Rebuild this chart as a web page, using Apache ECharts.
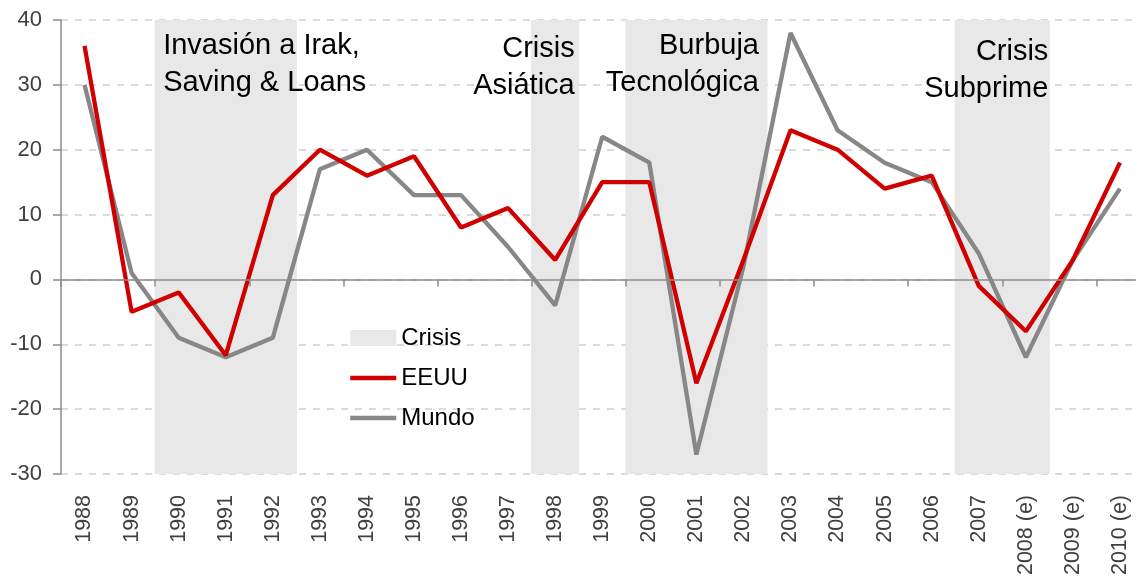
<!DOCTYPE html>
<html>
<head>
<meta charset="utf-8">
<script src="https://cdn.jsdelivr.net/npm/echarts@6/dist/echarts.min.js"></script>
<style>
  html, body { margin: 0; padding: 0; background: #fff; }
  #chart { width: 1136px; height: 584px; }
</style>
</head>
<body>
<div id="chart"></div>
<script>
// chart data
var years = ['1988', '1989', '1990', '1991', '1992', '1993', '1994', '1995', '1996', '1997',
             '1998', '1999', '2000', '2001', '2002', '2003', '2004', '2005', '2006', '2007',
             '2008 (e)', '2009 (e)', '2010 (e)'];
var eeuu  = [36, -5, -2, -11.7, 13, 20, 16, 19, 8, 11, 3, 15, 15, -16, 3, 23, 20, 14, 16, -1, -8, 3, 18];
var mundo = [30, 1, -9, -12, -9, 17, 20, 13, 13, 5, -4, 22, 18, -27, 2, 38, 23, 18, 15, 4, -12, 3, 14];
var crisisYears = ['1990', '1991', '1992', '1998', '2000', '2001', '2002', '2007', '2008 (e)'];
var yTicks = { min: -30, max: 40, interval: 10 };

// annotations over the crisis bands: text, band edge year, side, alignment
var notes = [
  { text: 'Invasión a Irak,\nSaving & Loans', year: '1990', side: 'left', align: 'left', dx: 8, top: 27 },
  { text: 'Crisis\nAsiática', year: '1998', side: 'right', align: 'right', dx: -4, top: 30 },
  { text: 'Burbuja\nTecnológica', year: '2002', side: 'right', align: 'right', dx: -8, top: 27 },
  { text: 'Crisis\nSubprime', year: '2008 (e)', side: 'right', align: 'right', dx: -1, top: 33 }
];

var FONT = '"Liberation Sans", Arial, sans-serif';
var SHADE = '#e8e8e8';

var chart = echarts.init(document.getElementById('chart'), null, { renderer: 'canvas' });

// one full-height band per crisis year, a bit wider than the category so neighbours join
function renderBand(params, api) {
  var cat = api.value(0);
  var top = api.coord([cat, yTicks.max]);
  var bottom = api.coord([cat, yTicks.min]);
  var w = api.size([1, 0])[0];
  return {
    type: 'rect',
    shape: { x: top[0] - w / 2 - 0.5, y: top[1], width: w + 1, height: bottom[1] - top[1] },
    style: { fill: SHADE }
  };
}

var option = {
  animation: false,
  textStyle: { fontFamily: FONT },
  // plot runs slightly past the right edge of the picture, as in the original
  grid: { left: 61, top: 20, bottom: 110, width: 1082.5, containLabel: false, outerBoundsMode: 'none' },
  legend: {
    orient: 'vertical',
    left: 348,
    top: 326,
    padding: 0,
    itemWidth: 46,
    itemHeight: 16,
    itemGap: 16,
    textStyle: { fontSize: 24, color: '#000', fontFamily: FONT },
    data: [
      { name: 'Crisis', icon: 'rect', itemStyle: { color: SHADE } },
      { name: 'EEUU', itemStyle: { opacity: 0 }, lineStyle: { width: 4.5 } },
      { name: 'Mundo', itemStyle: { opacity: 0 }, lineStyle: { width: 4.5 } }
    ]
  },
  xAxis: [
    {
      type: 'category',
      data: years,
      boundaryGap: true,
      position: 'bottom',
      axisLine: { show: false, onZero: false },
      axisTick: { show: false },
      axisLabel: { rotate: 90, margin: 21, fontSize: 21.5, color: '#404040', fontFamily: FONT, interval: 0 },
      splitLine: { show: false }
    },
    {
      type: 'category',
      data: years,
      boundaryGap: true,
      position: 'bottom',
      z: 5,
      axisLine: { show: true, onZero: true, lineStyle: { color: '#8c8c8c', width: 1.5 } },
      axisTick: { show: true, length: 7, lineStyle: { color: '#8c8c8c', width: 1.5 } },
      axisLabel: { show: false },
      splitLine: { show: false }
    }
  ],
  yAxis: {
    type: 'value',
    min: yTicks.min,
    max: yTicks.max,
    interval: yTicks.interval,
    axisLine: { show: true, lineStyle: { color: '#8c8c8c', width: 1.5 } },
    axisTick: { show: true, length: 8, lineStyle: { color: '#8c8c8c', width: 1.5 } },
    axisLabel: { margin: 19, fontSize: 22, color: '#404040', fontFamily: FONT },
    splitLine: { show: true, lineStyle: { color: '#cfcfcf', width: 1.5, type: [7, 7] } }
  },
  series: [
    {
      name: 'Crisis', type: 'custom', renderItem: renderBand,
      data: crisisYears.map(function (y) { return [y]; }),
      encode: { x: 0 },
      itemStyle: { color: SHADE }, silent: true, z: 1
    },
    {
      name: 'EEUU', type: 'line', data: eeuu, z: 4,
      symbol: 'none', showSymbol: false,
      lineStyle: { color: '#d00000', width: 4.3 },
      itemStyle: { color: '#d00000' }
    },
    {
      name: 'Mundo', type: 'line', data: mundo, z: 3,
      symbol: 'none', showSymbol: false,
      lineStyle: { color: '#878787', width: 4.3 },
      itemStyle: { color: '#878787' }
    }
  ]
};
chart.setOption(option);

// place annotation texts at the band edges, using the axis scale
var half = (chart.convertToPixel({ xAxisIndex: 0 }, years[1]) - chart.convertToPixel({ xAxisIndex: 0 }, years[0])) / 2;
var graphics = notes.map(function (n) {
  var cx = chart.convertToPixel({ xAxisIndex: 0 }, n.year);
  var x = (n.side === 'left' ? cx - half : cx + half) + n.dx;
  return {
    type: 'text',
    x: x,
    y: n.top,
    z: 10,
    style: {
      text: n.text,
      font: '29px ' + FONT,
      fill: '#000',
      align: n.align,
      verticalAlign: 'top',
      lineHeight: 37
    }
  };
});
chart.setOption({ graphic: graphics });
</script>
</body>
</html>
